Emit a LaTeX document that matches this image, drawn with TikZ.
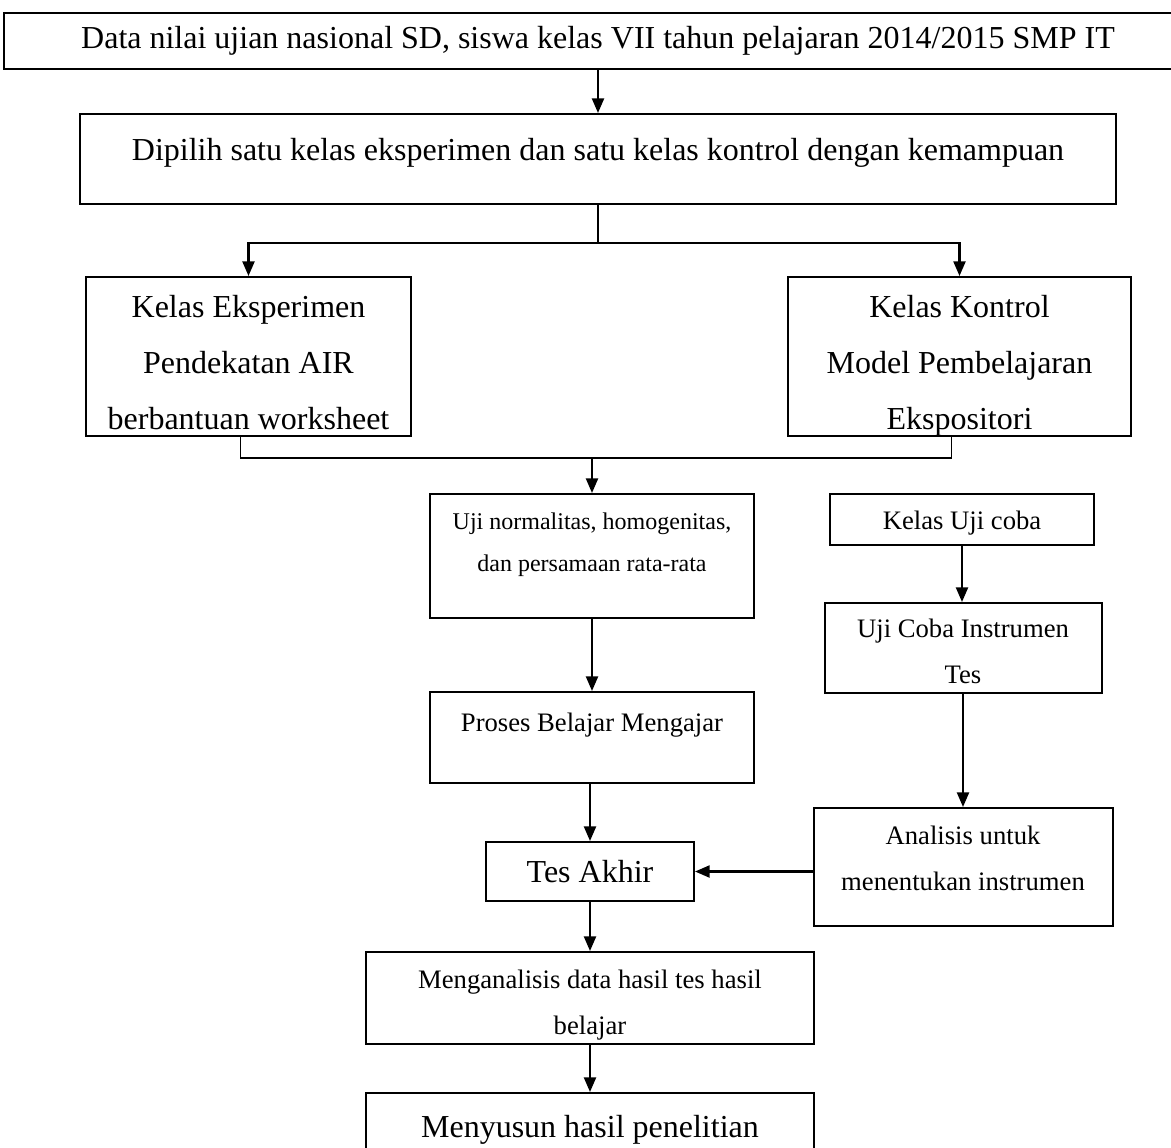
\documentclass[tikz,border=0pt]{standalone}
\usepackage{fontspec}
\setmainfont{Liberation Serif}
\usetikzlibrary{arrows.meta}

\newlength{\px}\setlength{\px}{0.75pt}
\newcommand{\bigtxt}{\fontsize{24pt}{42pt}\selectfont}
\newcommand{\smalltxt}{\fontsize{20pt}{34.5pt}\selectfont}
\newcommand{\tinytxt}{\fontsize{18pt}{31.5pt}\selectfont}
\newcommand{\boxtext}[4]{\parbox[c][#2\px][t]{#1\px}{\centering\rule{0pt}{#3\px}#4}}

\tikzset{
  box/.style={draw, line width=1.5pt, inner sep=0pt, font=\bigtxt},
  smallbox/.style={box, font=\smalltxt},
  tinybox/.style={box, font=\tinytxt},
  link/.style={line width=1.4pt},
  arr/.style={-{Triangle[length=11pt,width=9pt]}, line width=1.7pt}
}

\begin{document}
\begin{tikzpicture}[x=0.75pt,y=0.75pt,yscale=-1,xscale=1]

\useasboundingbox (0,0) rectangle (1171,1147);

\node [box] (data) at (598,41) {\boxtext{1188}{56}{35}{Data nilai ujian nasional SD, siswa kelas VII tahun pelajaran 2014/2015 SMP IT}};

\node [box] (pilih) at (598,159) {\boxtext{1036}{90}{46}{Dipilih satu kelas eksperimen dan satu kelas kontrol dengan kemampuan}};

\node [box] (eks) at (248.5,356.5) {\boxtext{325}{159}{40}{Kelas Eksperimen\\ Pendekatan AIR\\ berbantuan worksheet}};

\node [box] (kon) at (959.5,356.5) {\boxtext{343}{159}{40}{Kelas Kontrol\\ Model Pembelajaran\\ Ekspositori}};

\node [tinybox] (norm) at (592,556) {\boxtext{324}{124}{35}{Uji normalitas, homogenitas,\\ dan persamaan rata-rata}};

\node [smallbox] (ujicoba) at (962,519.5) {\boxtext{264}{51}{35}{Kelas Uji coba}};

\node [smallbox] (instr) at (963,648) {\boxtext{277}{90}{34}{Uji Coba Instrumen\\ Tes}};

\node [smallbox] (proses) at (592,737.5) {\boxtext{324}{91}{39}{Proses Belajar Mengajar}};

\node [smallbox] (analisis) at (963,867) {\boxtext{299}{118}{36}{Analisis untuk\\ menentukan instrumen}};

\node [box] (akhir) at (590,871.5) {\boxtext{208}{59}{40}{Tes Akhir}};

\node [smallbox] (mengan) at (590,998) {\boxtext{448}{92}{36}{Menganalisis data hasil tes hasil\\ belajar}};

\node [box] (susun) at (590,1133) {\boxtext{448}{80}{44}{Menyusun hasil penelitian}};

\coordinate (split) at (598,243);
\coordinate (join) at (592,458);

\draw [arr] (data) -- (pilih);
\draw [link] (pilih) -- (split);
\draw [arr] (split) -| (eks);
\draw [arr] (split) -| (kon);
\draw [link] ([xshift=-6pt]eks.south) |- (join) -| ([xshift=-6pt]kon.south);
\draw [arr] (join) -- (norm);
\draw [arr] (norm) -- (proses);
\draw [arr] (proses.south -| akhir.north) -- (akhir);
\draw [arr] (akhir) -- (mengan);
\draw [arr] (mengan) -- (susun);
\draw [arr] (ujicoba.south) -- (ujicoba.south |- instr.north);
\draw [arr] (instr.south) -- (instr.south |- analisis.north);
\draw [arr] (analisis.west |- akhir) -- (akhir);

\end{tikzpicture}
\end{document}
